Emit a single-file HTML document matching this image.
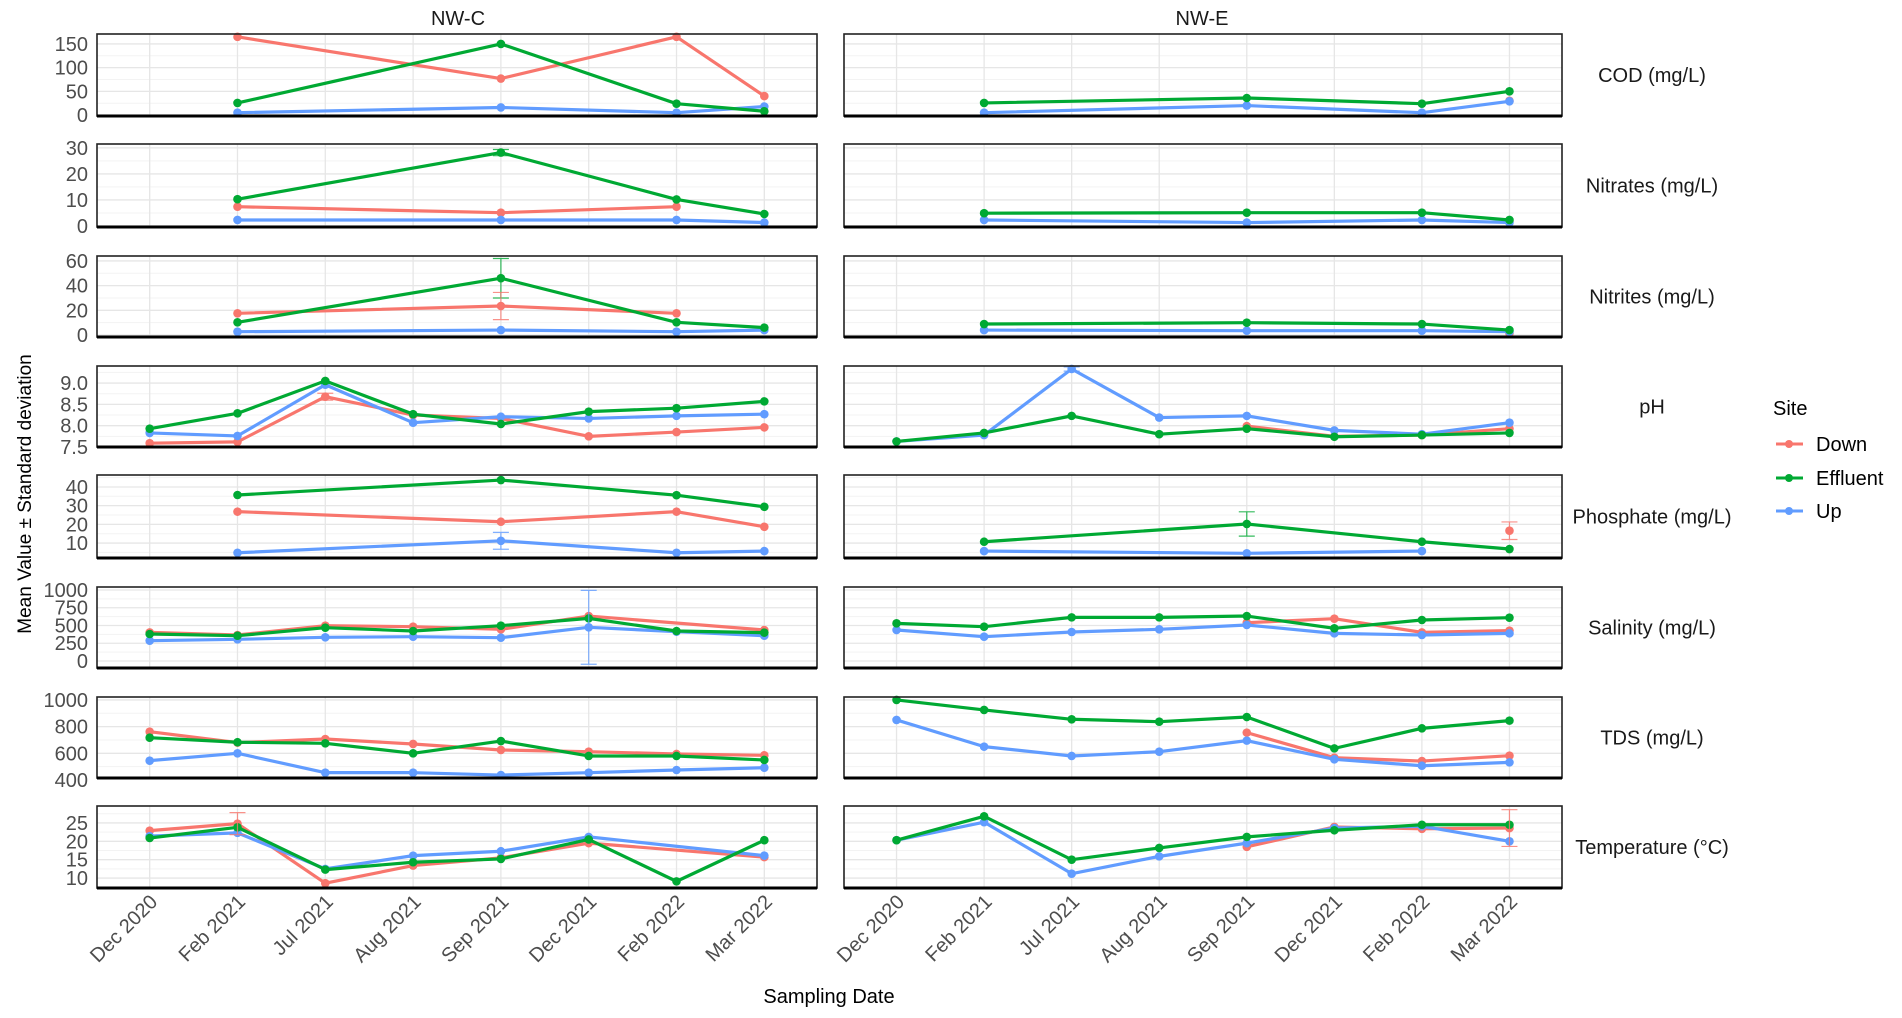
<!DOCTYPE html>
<html><head><meta charset="utf-8"><style>
html,body{margin:0;padding:0;background:#fff;}
svg{display:block;font-family:"Liberation Sans",sans-serif;}
</style></head><body>
<svg id="chart" width="1902" height="1018" viewBox="0 0 1902 1018" xmlns="http://www.w3.org/2000/svg">
<rect width="1902" height="1018" fill="#fff"/>
<g id="panels"></g>
<text x="458" y="25" text-anchor="middle" font-size="20" fill="#1a1a1a">NW-C</text>
<text x="1202" y="25" text-anchor="middle" font-size="20" fill="#1a1a1a">NW-E</text>
<text transform="translate(31,494) rotate(-90)" text-anchor="middle" font-size="19" fill="#000">Mean Value ± Standard deviation</text>
<text x="829" y="1003" text-anchor="middle" font-size="20" fill="#000">Sampling Date</text>
<g>
<text x="1773" y="415" font-size="20" fill="#000">Site</text>
<g><line x1="1776" y1="444" x2="1803" y2="444" stroke="#F8766D" stroke-width="3"/><circle cx="1789" cy="444" r="4" fill="#F8766D"/><text x="1816" y="451" font-size="20" fill="#000">Down</text></g>
<g><line x1="1776" y1="478" x2="1803" y2="478" stroke="#00A933" stroke-width="3"/><circle cx="1789" cy="478" r="4" fill="#00A933"/><text x="1816" y="485" font-size="20" fill="#000">Effluent</text></g>
<g><line x1="1776" y1="511" x2="1803" y2="511" stroke="#619CFF" stroke-width="3"/><circle cx="1789" cy="511" r="4" fill="#619CFF"/><text x="1816" y="518" font-size="20" fill="#000">Up</text></g>
</g>
</svg>
<script>
const categories = ["Dec 2020","Feb 2021","Jul 2021","Aug 2021","Sep 2021","Dec 2021","Feb 2022","Mar 2022"];
const variables = ["COD (mg/L)","Nitrates (mg/L)","Nitrites (mg/L)","pH","Phosphate (mg/L)","Salinity (mg/L)","TDS (mg/L)","Temperature (°C)"];
const yTicks = [[0,50,100,150],[0,10,20,30],[0,20,40,60],[7.5,8.0,8.5,9.0],[10,20,30,40],[0,250,500,750,1000],[400,600,800,1000],[10,15,20,25]];
const yTickLabels = [["0","50","100","150"],["0","10","20","30"],["0","20","40","60"],["7.5","8.0","8.5","9.0"],["10","20","30","40"],["0","250","500","750","1000"],["400","600","800","1000"],["10","15","20","25"]];
const yDomains = [[-2,171],[-0.4,31.5],[-1.6,64],[7.5,9.4],[2,46.4],[-99,1042],[415,1022],[7.3,29.6]];
const n = null;
// NW-C series
const cDown = [
 [n,165,n,n,77,n,165,40],[n,7.4,n,n,5.1,n,7.4,n],[n,17.6,n,n,23.5,n,17.6,n],
 [7.59,7.62,8.68,8.25,8.17,7.75,7.85,7.96],[n,26.8,n,n,21.4,n,26.8,18.7],
 [403,366,497,483,446,633,n,436],[762,680,707,670,625,612,595,585],[22.9,24.8,8.6,13.4,15.5,19.5,n,15.7]];
const cEffluent = [
 [n,25.6,n,n,150,n,24,8],[n,10.3,n,n,28.2,n,10.2,4.6],[n,10.3,n,n,46,n,10.3,6],
 [7.93,8.29,9.05,8.27,8.04,8.33,8.41,8.57],[n,35.7,n,n,43.7,n,35.6,29.4],
 [380,356,469,422,497,600,422,399],[717,683,675,600,692,580,580,550],[20.9,23.8,12.3,14.3,15.2,20.5,9.1,20.3]];
const cUp = [
 [n,5,n,n,16,n,5,18],[n,2.3,n,n,2.3,n,2.3,1.3],[n,2.7,n,n,4,n,2.7,4],
 [7.83,7.76,8.96,8.07,8.21,8.17,8.23,8.27],[n,4.8,n,n,11.2,n,4.8,5.7],
 [286,305,333,342,328,474,413,356],[545,600,455,455,437,455,475,492],[21.4,22.3,12.5,16.1,17.3,21.2,n,16.1]];
// NW-E series
const eDown = [
 [n,n,n,n,n,n,n,30],[n,n,n,n,n,n,n,1.9],[n,n,n,n,n,n,n,1.4],
 [n,n,n,n,7.99,7.75,7.78,7.93],[n,n,n,n,n,n,n,16.6],
 [n,n,n,n,539,596,403,427],[n,n,n,n,755,567,542,582],[n,n,n,n,18.5,23.9,23.4,23.6]];
const eEffluent = [
 [n,25.6,n,n,36,n,24,50],[n,4.9,n,n,5.1,n,5.1,2.3],[n,8.9,n,n,10,n,8.9,4],
 [7.63,7.83,8.23,7.8,7.93,7.74,7.78,7.83],[n,10.7,n,n,20.2,n,10.7,6.8],
 [530,483,614,614,633,460,577,610],[1000,925,855,837,872,637,787,845],[20.3,26.8,15,18.2,21.2,23,24.5,24.5]];
const eUp = [
 [n,5,n,n,20,n,5,29],[n,2.3,n,n,1.3,n,2.3,1.3],[n,4,n,n,3.5,n,3.5,2.7],
 [7.63,7.78,9.33,8.19,8.23,7.89,7.8,8.07],[n,5.7,n,n,4.5,n,5.7,n],
 [436,342,408,446,507,389,366,389],[850,650,580,612,695,555,507,532],[20.3,25.2,11.2,15.9,19.5,23.6,24.1,20]];
// error bars: [column, row, site, index, sd]
const errorBars = [
 [0,2,"Effluent",4,16],[0,2,"Down",4,11],[0,1,"Effluent",4,1.2],[0,4,"Up",4,4.5],
 [0,5,"Up",5,520],[0,7,"Down",1,3],[0,3,"Down",2,0.08],
 [1,4,"Effluent",4,6.5],[1,4,"Down",7,4.7],[1,7,"Down",7,5],[1,3,"Up",2,0.05]];

const colors = {Down:"#F8766D",Effluent:"#00A933",Up:"#619CFF"};
const colSeries = [{Down:cDown,Effluent:cEffluent,Up:cUp},{Down:eDown,Effluent:eEffluent,Up:eUp}];
const colX = [[97,817],[844,1562]];
const rowY = [[34,116],[144,227],[256,337],[366,447],[475,558],[587,668],[697,778],[806,888]];
const NS = "http://www.w3.org/2000/svg";
const root = document.getElementById("panels");
function mk(tag, attrs, parent){const e=document.createElementNS(NS,tag);for(const k in attrs)e.setAttribute(k,attrs[k]);(parent||root).appendChild(e);return e;}
function xScale(c,i){const [a,b]=colX[c];const step=(b-a)/(categories.length-1+1.2);return a+step*(0.6+i);}
function yScale(r,v){const [t,bt]=rowY[r];const [lo,hi]=yDomains[r];return bt-(v-lo)/(hi-lo)*(bt-t);}

for(let c=0;c<2;c++){
 for(let r=0;r<variables.length;r++){
  const [x0,x1]=colX[c],[y0,y1]=rowY[r];
  const g=mk("g",{});
  
  
  mk("rect",{x:x0,y:y0,width:x1-x0,height:y1-y0,fill:"#fff"},g);
  const tk=yTicks[r];
  const d=tk[1]-tk[0];
  for(let v=tk[0]-d/2; v<=tk[tk.length-1]+d; v+=d){const y=yScale(r,v);if(y>y0&&y<y1)mk("line",{x1:x0,x2:x1,y1:y,y2:y,stroke:"#f3f3f3","stroke-width":1},g);}
  for(let v=tk[0]; v<=tk[tk.length-1]+d*2; v+=d){const y=yScale(r,v);if(y>y0&&y<y1)mk("line",{x1:x0,x2:x1,y1:y,y2:y,stroke:"#e6e6e6","stroke-width":1.3},g);}
  for(let i=0;i<categories.length;i++){const x=xScale(c,i);mk("line",{x1:x,x2:x,y1:y0,y2:y1,stroke:"#e6e6e6","stroke-width":1.3},g);}
  ["Down","Up","Effluent"].forEach(s=>{
   const vals=colSeries[c][s][r];
   const pts=[];vals.forEach((v,i)=>{if(v!==null)pts.push([xScale(c,i),yScale(r,v)]);});
   if(pts.length>1){const pl=mk("polyline",{points:pts.map(p=>p.join(",")).join(" "),fill:"none",stroke:colors[s],"stroke-width":3.2,"stroke-linejoin":"round"},g);
    
    }
   pts.forEach(p=>{const m=mk("circle",{cx:p[0],cy:p[1],r:4.3,fill:colors[s]},g);
    
    });
  });
  errorBars.forEach(e=>{if(e[0]!==c||e[1]!==r)return;const v=colSeries[c][e[2]][r][e[3]];if(v===null)return;
   const x=xScale(c,e[3]);const ya=yScale(r,v+e[4]),yb=yScale(r,v-e[4]);const col=colors[e[2]];
   const eb=mk("g",{stroke:col,"stroke-width":1.2,opacity:0.8},g);
   
   
   mk("line",{x1:x,x2:x,y1:ya,y2:yb},eb);mk("line",{x1:x-8,x2:x+8,y1:ya,y2:ya},eb);mk("line",{x1:x-8,x2:x+8,y1:yb,y2:yb},eb);});
  mk("rect",{x:x0,y:y0,width:x1-x0,height:y1-y0,fill:"none",stroke:"#222","stroke-width":1.6},g);
  mk("line",{x1:x0,x2:x1,y1:y1,y2:y1,stroke:"#000","stroke-width":3},g);
  if(c===0){
   tk.forEach((v,k)=>{const t=mk("text",{x:88,y:yScale(r,v)+7,"text-anchor":"end","font-size":20,fill:"#4d4d4d"});t.textContent=yTickLabels[r][k];
    
    });
  } else {
   const t=mk("text",{x:1652,y:(y0+y1)/2+7,"text-anchor":"middle","font-size":20,fill:"#1a1a1a"});t.textContent=variables[r];
   
   
  }
 }
 categories.forEach((cat,i)=>{const x=xScale(c,i)+9,y=903;
  const t=mk("text",{x:x,y:y,"text-anchor":"end","font-size":20,fill:"#4d4d4d",transform:`rotate(-45 ${x} ${y})`});t.textContent=cat;
  
  });
}
</script>
</body></html>
